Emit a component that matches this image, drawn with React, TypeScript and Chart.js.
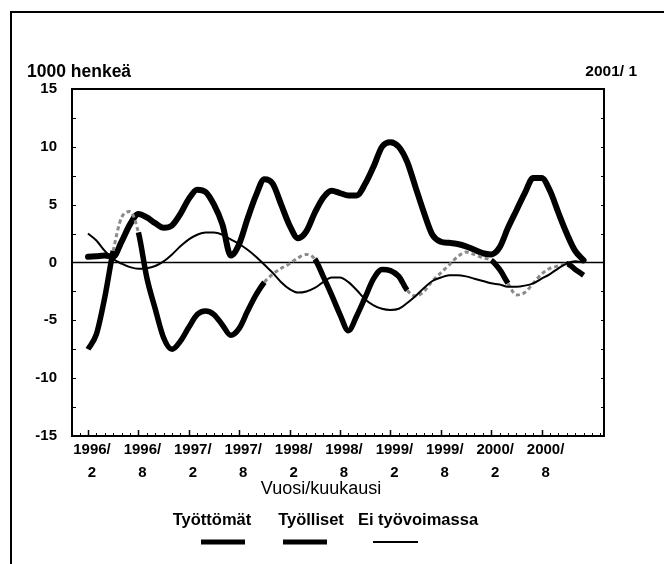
import React, { useEffect, useRef } from 'react';
import { Chart, registerables } from 'chart.js';

Chart.register(...registerables);

// ---------- data ----------
const seriesNames = ['Työttömät', 'Työlliset', 'Ei työvoimassa'];
const startYear = 1996;
const startMonth = 2; // first observation 1996/2, monthly until 2001/1

// Työlliset (employed), change from a year earlier, 1000 persons
const tyolliset = [
  0.5, 0.55, 0.6, 0.5, 1.8, 3.3, 4.2, 3.9, 3.4, 3.0,
  3.2, 4.2, 5.5, 6.3, 6.1, 5.0, 3.3, 0.6, 1.6, 3.8,
  5.8, 7.2, 6.8, 5.0, 3.2, 2.1, 2.7, 4.3, 5.6, 6.2,
  6.0, 5.8, 5.8, 6.8, 8.3, 10.0, 10.4, 10.0, 8.7, 6.5,
  4.3, 2.4, 1.8, 1.7, 1.6, 1.4, 1.1, 0.8, 0.7, 1.3,
  3.0, 4.5, 6.0, 7.3, 7.3, 6.2, 4.3, 2.5, 1.0, 0.2,
];

// Työttömät (unemployed)
const tyottomat = [
  -7.5, -6.2, -3.0, 1.0, 3.9, 4.4, 2.6, -1.3, -4.0, -6.5,
  -7.5, -6.8, -5.6, -4.5, -4.2, -4.5, -5.4, -6.3, -5.7, -4.2,
  -2.8, -1.7, -1.0, -0.5, -0.1, 0.4, 0.7, 0.3, -1.2, -2.8,
  -4.5, -5.9, -4.6, -3.0, -1.4, -0.6, -0.7, -1.2, -2.4, -2.9,
  -2.5, -1.6, -0.9, -0.2, 0.5, 0.9, 0.7, 0.4, 0.2, -0.6,
  -1.8, -2.8, -2.6, -1.8, -1.0, -0.5, -0.3, -0.1, -0.6, -1.1,
];

// Ei työvoimassa (not in labour force)
const eiTyovoimassa = [
  2.5, 1.9, 1.0, 0.3, -0.1, -0.4, -0.55, -0.5, -0.3, 0.1,
  0.7, 1.4, 2.0, 2.4, 2.6, 2.6, 2.4, 2.0, 1.6, 1.1,
  0.5, -0.2, -0.9, -1.7, -2.3, -2.6, -2.5, -2.2, -1.7, -1.3,
  -1.3, -1.7, -2.4, -3.2, -3.7, -4.0, -4.1, -4.0, -3.5, -2.9,
  -2.2, -1.6, -1.3, -1.1, -1.1, -1.2, -1.4, -1.6, -1.8, -1.9,
  -2.1, -2.1, -2.0, -1.8, -1.4, -1.0, -0.5, -0.1, 0.1, 0.0,
];

const xTickYears = ['1996/', '1996/', '1997/', '1997/', '1998/', '1998/', '1999/', '1999/', '2000/', '2000/'];
const xTickMonths = ['2', '8', '2', '8', '2', '8', '2', '8', '2', '8'];

const yAxisUnit = '1000 henkeä';
const periodLabel = '2001/ 1';
const xAxisTitle = 'Vuosi/kuukausi';

// ---------- styles ----------
const FONT = "'Liberation Sans', Arial, sans-serif";
const X_MIN = -0.905;
const X_MAX = 62.43;
// segments of the unemployed line that are printed faint/dashed in the original
const faintRanges: [number, number][] = [[4, 7], [22, 28], [39, 49], [51, 58]];

const toIndex = (y: number, m: number) => (y - startYear) * 12 + m - 1;
const tickIdx = xTickYears.map((y, i) => toIndex(parseInt(y, 10), parseInt(xTickMonths[i], 10)));
const firstIdx = toIndex(startYear, startMonth);
const toPoints = (arr: number[]) => arr.map((v, i) => ({ x: firstIdx + i, y: v }));

const decor = {
  id: 'decor',
  beforeDatasetsDraw(chart: any) {
    const { ctx, chartArea, scales } = chart;
    const { left, right, bottom } = chartArea;
    const x = scales.x;
    const y = scales.y;
    ctx.save();
    ctx.strokeStyle = '#000';
    // zero line
    ctx.lineWidth = 1.5;
    const y0 = y.getPixelForValue(0);
    ctx.beginPath();
    ctx.moveTo(left, y0);
    ctx.lineTo(right, y0);
    ctx.stroke();
    // y minor marks inside the frame
    ctx.lineWidth = 1;
    for (let v = -12.5; v <= 12.5; v += 2.5) {
      if (Math.abs(v) < 0.01) continue;
      const py = Math.round(y.getPixelForValue(v)) + 0.5;
      ctx.beginPath();
      ctx.moveTo(left, py);
      ctx.lineTo(left + 4, py);
      ctx.moveTo(right, py);
      ctx.lineTo(right - 3, py);
      ctx.stroke();
    }
    // x monthly marks
    for (let m = Math.ceil(X_MIN); m <= Math.floor(X_MAX); m++) {
      const px = Math.round(x.getPixelForValue(m)) + 0.5;
      const major = tickIdx.includes(m);
      ctx.lineWidth = major ? 1.5 : 1;
      ctx.beginPath();
      ctx.moveTo(px, bottom);
      ctx.lineTo(px, bottom - (major ? 6 : 3));
      ctx.stroke();
    }
    ctx.restore();
  },
  afterDraw(chart: any) {
    const { ctx, chartArea } = chart;
    const { left, right, top, bottom } = chartArea;
    ctx.save();
    // frame of the plot
    ctx.strokeStyle = '#000';
    ctx.lineWidth = 2;
    ctx.strokeRect(left, top, right - left, bottom - top);

    ctx.fillStyle = '#000';
    ctx.textBaseline = 'middle';
    ctx.font = `bold 17.5px ${FONT}`;
    ctx.textAlign = 'left';
    ctx.fillText(yAxisUnit, 27, 72);
    ctx.font = `bold 15.5px ${FONT}`;
    ctx.textAlign = 'right';
    ctx.fillText(periodLabel, 637, 72);

    // x axis title
    ctx.font = `18px ${FONT}`;
    ctx.textAlign = 'center';
    ctx.fillText(xAxisTitle, 321, 489);

    // legend
    const legendX = [212, 311, 418];
    const lineX: [number, number][] = [[201, 245], [283, 327], [373, 418]];
    const lineW = [5, 5, 2];
    ctx.font = `bold 16.5px ${FONT}`;
    seriesNames.forEach((name, i) => {
      ctx.fillText(name, legendX[i], 520);
      ctx.lineWidth = lineW[i];
      ctx.beginPath();
      ctx.moveTo(lineX[i][0], 542);
      ctx.lineTo(lineX[i][1], 542);
      ctx.stroke();
    });
    ctx.restore();
  },
};

export default function App() {
  const ref = useRef<HTMLCanvasElement | null>(null);

  useEffect(() => {
    if (!ref.current) return;
    const isFaint = (i: number) => faintRanges.some(([a, b]) => firstIdx + i >= a && firstIdx + i < b);
    const chart = new Chart(ref.current, {
      type: 'line',
      data: {
        datasets: [
          {
            label: seriesNames[2],
            data: toPoints(eiTyovoimassa),
            borderColor: '#000',
            borderWidth: 2,
            pointRadius: 0,
            cubicInterpolationMode: 'monotone',
            fill: false,
          },
          {
            label: seriesNames[0],
            data: toPoints(tyottomat),
            borderColor: '#000',
            borderWidth: 5.5,
            pointRadius: 0,
            cubicInterpolationMode: 'monotone',
            fill: false,
            segment: {
              borderColor: (c: any) => (isFaint(c.p0DataIndex) ? '#8a8a8a' : undefined),
              borderDash: (c: any) => (isFaint(c.p0DataIndex) ? [4, 3] : undefined),
              borderWidth: (c: any) => (isFaint(c.p0DataIndex) ? 3 : undefined),
            },
          },
          {
            label: seriesNames[1],
            data: toPoints(tyolliset),
            borderColor: '#000',
            borderWidth: 6,
            pointRadius: 0,
            cubicInterpolationMode: 'monotone',
            borderCapStyle: 'round',
            fill: false,
          },
        ],
      },
      options: {
        responsive: false,
        animation: false,
        layout: { padding: { top: 89, right: 60, left: 0, bottom: 0 } },
        plugins: { legend: { display: false }, tooltip: { enabled: false }, title: { display: false } },
        scales: {
          x: {
            type: 'linear',
            min: X_MIN,
            max: X_MAX,
            grid: { display: false, drawTicks: false },
            border: { display: false },
            afterBuildTicks: (s: any) => {
              s.ticks = tickIdx.map((v) => ({ value: v }));
            },
            afterFit: (s: any) => {
              s.height = 128;
            },
            ticks: {
              autoSkip: false,
              maxRotation: 0,
              minRotation: 0,
              padding: 3,
              labelOffset: 4,
              color: '#000',
              font: { family: FONT, size: 15, weight: 'bold', lineHeight: 1.5 },
              callback: (v: any) => {
                const i = tickIdx.indexOf(Number(v));
                return i >= 0 ? [xTickYears[i], xTickMonths[i]] : '';
              },
            },
          },
          y: {
            min: -15,
            max: 15,
            grid: { display: false, drawTicks: false },
            border: { display: false },
            afterFit: (s: any) => {
              s.width = 72;
            },
            ticks: {
              stepSize: 5,
              padding: 15,
              color: '#000',
              font: { family: FONT, size: 15, weight: 'bold' },
            },
          },
        },
      },
      plugins: [decor],
    } as any);
    return () => chart.destroy();
  }, []);

  return (
    <div style={{ position: 'absolute', left: 0, top: 0, width: 664, height: 564, background: '#fff' }}>
      <div
        style={{
          position: 'absolute',
          left: 10,
          top: 11,
          right: 0,
          bottom: 0,
          borderTop: '2px solid #000',
          borderLeft: '2px solid #000',
        }}
      />
      <canvas ref={ref} width={664} height={564} style={{ position: 'absolute', left: 0, top: 0 }} />
    </div>
  );
}
